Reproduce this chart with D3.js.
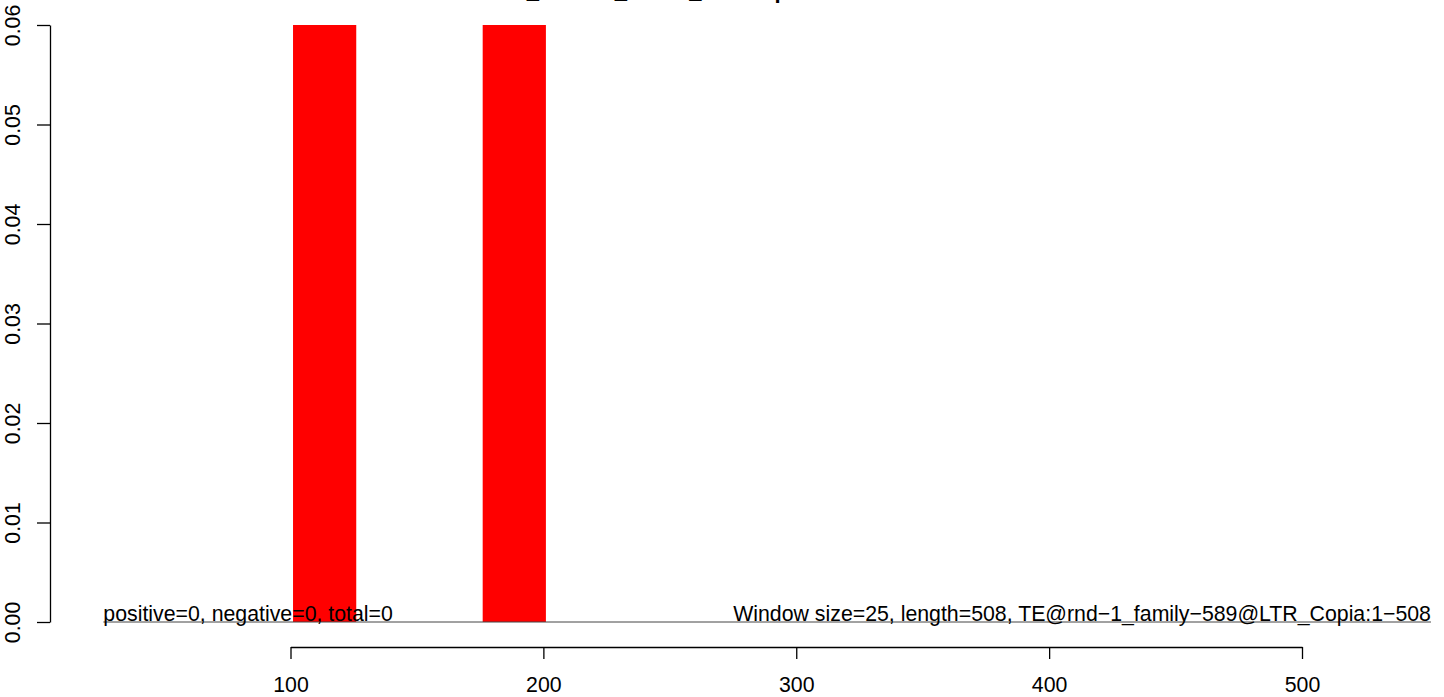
<!DOCTYPE html>
<html>
<head>
<meta charset="utf-8">
<script src="https://cdn.jsdelivr.net/npm/d3@7"></script>
<style>
  html, body { margin: 0; padding: 0; background: #fff; }
  svg { display: block; font-family: "Liberation Sans", Arial, sans-serif; }
</style>
</head>
<body>
<svg id="chart" width="1444" height="697"></svg>
<script>
// ---- data ----
const chartTitle = "Col0_H3K9m_Root1_LTRmap";
const windowSize = 25;
const windowStarts = [101, 176];
const windowValues = [0.06, 0.06];
const xTicks = [100, 200, 300, 400, 500];
const yTicks = [0, 0.01, 0.02, 0.03, 0.04, 0.05, 0.06];
const leftNote = "positive=0, negative=0, total=0";
const rightNote = "Window size=25, length=508, TE@rnd\u22121_family\u2212589@LTR_Copia:1\u2212508";
const noteRange = [26, 551];

// ---- layout ----
const svg = d3.select("#chart");
const x = d3.scaleLinear().domain([100, 500]).range([290.5, 1302]);
const y = d3.scaleLinear().domain([0, 0.06]).range([622, 25]);
const fontSize = 21.3;

// bars
svg.append("g").selectAll("rect")
  .data(windowStarts.map((s, i) => ({ s, v: windowValues[i] })))
  .join("rect")
  .attr("x", d => x(d.s))
  .attr("width", d => x(d.s + windowSize) - x(d.s))
  .attr("y", d => y(d.v))
  .attr("height", d => y(0) - y(d.v))
  .attr("fill", "#ff0000");

// baseline
svg.append("line")
  .attr("x1", x(noteRange[0])).attr("x2", x(noteRange[1]))
  .attr("y1", y(0)).attr("y2", y(0))
  .attr("stroke", "#444").attr("stroke-width", 1);

// notes
svg.append("text")
  .attr("x", x(noteRange[0])).attr("y", y(0) - 1)
  .attr("font-size", fontSize).attr("fill", "#000")
  .text(leftNote);
svg.append("text")
  .attr("x", x(noteRange[1])).attr("y", y(0) - 1)
  .attr("text-anchor", "end")
  .attr("font-size", fontSize).attr("fill", "#000")
  .text(rightNote);

// y axis
const yAxis = svg.append("g")
  .attr("transform", "translate(50,0)")
  .call(d3.axisLeft(y).tickValues(yTicks).tickSize(13).tickSizeOuter(0).tickFormat(d3.format(".2f")));
yAxis.select(".domain").attr("stroke", "#000").attr("stroke-width", 1.3);
yAxis.selectAll(".tick line").attr("stroke", "#000").attr("stroke-width", 1.3);
yAxis.selectAll(".tick text")
  .attr("font-size", fontSize).attr("font-family", "Liberation Sans, Arial, sans-serif")
  .attr("fill", "#000")
  .attr("transform", "rotate(-90)")
  .attr("x", 0).attr("y", -30).attr("dy", 0)
  .attr("text-anchor", "middle");

// x axis
const xAxis = svg.append("g")
  .attr("transform", "translate(0,647)")
  .call(d3.axisBottom(x).tickValues(xTicks).tickSize(12).tickSizeOuter(0).tickFormat(d3.format("d")));
xAxis.select(".domain").attr("stroke", "#000").attr("stroke-width", 1.3);
xAxis.selectAll(".tick line").attr("stroke", "#000").attr("stroke-width", 1.3);
xAxis.selectAll(".tick text")
  .attr("font-size", fontSize).attr("font-family", "Liberation Sans, Arial, sans-serif")
  .attr("fill", "#000")
  .attr("y", 45).attr("dy", 0);

// title (mostly above the visible area, as in the reference)
svg.append("text")
  .attr("x", 479).attr("y", -2.5)
  .attr("font-size", 22).attr("font-weight", "bold")
  .text(chartTitle);
</script>
</body>
</html>
